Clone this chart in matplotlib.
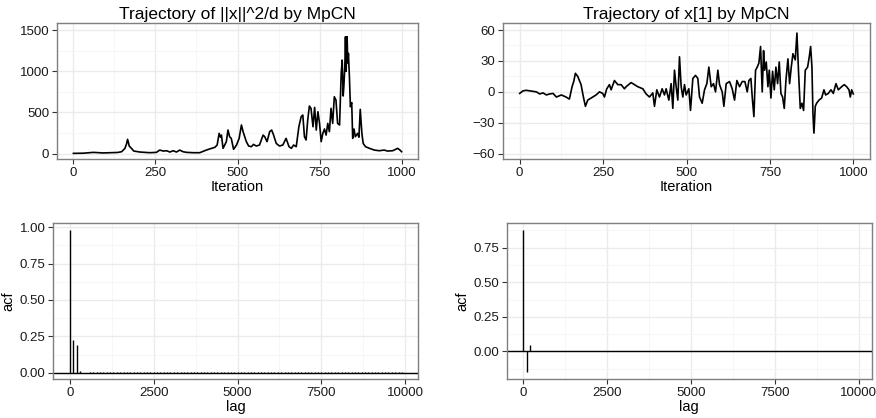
import matplotlib
matplotlib.use("Agg")
import matplotlib.pyplot as plt
from matplotlib.ticker import MultipleLocator

plt.rcParams["font.family"] = ["Liberation Sans", "DejaVu Sans"]

# trajectory of ||x||^2/d
norm_iter = [0, 30, 61, 90, 112, 135, 147, 157, 162, 165, 168, 170, 175, 184, 203, 233, 253,
             263, 274, 284, 294, 304, 314, 324, 334, 345, 365, 385, 400, 405, 421, 431, 438,
             444, 448, 451, 456, 461, 466, 471, 476, 481, 488, 497, 505, 512, 517, 522, 527,
             534, 542, 549, 557, 567, 578, 583, 590, 598, 604, 610, 618, 628, 638, 648, 657,
             664, 671, 679, 687, 694, 699, 704, 709, 714, 719, 724, 730, 735, 740, 745, 750,
             755, 760, 765, 770, 775, 780, 785, 790, 795, 800, 805, 811, 816, 819, 822, 824,
             827, 829, 831, 834, 836, 838, 841, 844, 848, 851, 855, 859, 866, 870, 874, 879,
             883, 890, 902, 917, 932, 947, 957, 973, 988, 995, 1000]
norm_val = [4, 6, 16, 9, 12, 15, 24, 65, 120, 174, 130, 93, 73, 32, 20, 12, 16,
            44, 32, 36, 20, 36, 20, 44, 24, 16, 12, 12, 36, 44, 65, 77, 105,
            247, 200, 226, 65, 105, 146, 287, 206, 186, 53, 105, 186, 348, 267, 206, 146,
            93, 85, 113, 93, 105, 226, 206, 146, 267, 287, 226, 125, 93, 105, 186, 85,
            65, 105, 85, 327, 449, 469, 206, 166, 408, 578, 550, 327, 562, 287, 509, 368,
            146, 247, 300, 226, 368, 267, 550, 368, 691, 651, 368, 348, 974, 1136, 700, 813,
            1050, 1419, 1000, 1419, 1100, 1217, 934, 570, 620, 186, 300, 206, 247, 200, 538, 247,
            125, 85, 65, 44, 36, 44, 32, 36, 65, 44, 24]

# trajectory of x[1]
x1_iter = [0, 10, 20, 30, 40, 50, 60, 70, 80, 90, 100, 110, 125, 139, 149, 157, 162, 167,
           174, 184, 191, 197, 204, 214, 229, 239, 249, 254, 261, 269, 274, 284, 294, 304,
           314, 319, 334, 344, 354, 369, 379, 389, 399, 404, 411, 419, 427, 434, 439, 447,
           454, 459, 464, 469, 474, 479, 484, 489, 494, 499, 507, 512, 519, 527, 534, 539,
           547, 554, 561, 567, 574, 581, 587, 594, 599, 607, 612, 619, 629, 637, 644, 651,
           659, 667, 675, 682, 687, 693, 697, 702, 707, 712, 717, 722, 727, 731, 734, 739,
           744, 748, 753, 758, 763, 768, 773, 778, 783, 788, 793, 798, 804, 809, 814, 819,
           826, 831, 836, 841, 846, 851, 856, 863, 868, 872, 876, 879, 882, 886, 890, 897,
           905, 912, 917, 925, 933, 940, 948, 955, 965, 973, 980, 987, 991, 995, 1000]
x1_val = [-1.5, 1, 1.5, 1, 0.5, 0, -2, -1, -3, -2, -1.5, -5, -3, -5, -7, 5, 10, 18,
          15, 7, -5, -14, -8, -6, -3, 0, -1.5, -5, 3, 7, 2, 11, 7, 7,
          3, 5, 9, 7, 5, 3, -2, -5, -1, -14, 2, -5, 3, -3, 3, -8,
          8, -16, 21, 5, -8, 34, 5, -5, 7, -3, 3, -18, 13, 16, 13, -5,
          -11, 2, 8, 24, 5, 8, 0, 21, 7, 0, -14, 8, 10, 3, -8, 11,
          5, 10, 10, 0, 11, 13, -5, -24, 21, 24, 28, 44, 0, 40, 21, 29,
          5, 21, -6, 20, 2, 24, 8, 29, -1.5, -5, -16, 11, 32, 8, 24, 37,
          31, 57, 18, -16, -11, -18, 21, 24, 34, 44, 24, -21, -40, -14, -11, -8,
          -6, 2, -3, -1.5, 2, -1.5, 8, 2, 5, 7, 5, 2, -5, 2, -2]

# autocorrelations, lags thinned by 100
acf_lags = list(range(0, 10000, 100))
acf_norm_head = [0.978, 0.224, 0.19, 0.013]
acf_x1_head = [0.879, -0.151, 0.045, 0.003]
acf_norm_tail = [0.001, 0.001, 0.003, 0.004, 0.003, 0.004, 0.003, 0.002, 0.004, 0.003,
                 0.003, 0.004, 0.002, 0.003, 0.004, 0.003, 0.003, 0.002, 0.004, 0.003,
                 0.003, 0.004, 0.003, 0.002, 0.003, 0.004, 0.003, 0.003, 0.002, 0.004,
                 0.003, 0.003, 0.004, 0.003, 0.002, 0.003, 0.004, 0.003, 0.003, 0.002,
                 0.004, 0.003, 0.003, 0.004, 0.003, 0.002, 0.003, 0.004, 0.003, 0.003,
                 0.002, 0.004, 0.003, 0.003, 0.004, 0.003, 0.002, 0.003, 0.004, 0.003,
                 0.003, 0.002, 0.004, 0.003, 0.003, 0.004, 0.003, 0.002, 0.003, 0.004,
                 0.003, 0.003, 0.002, 0.004, 0.003, 0.003, 0.004, 0.003, 0.002, 0.003,
                 0.004, 0.003, 0.003, 0.002, 0.004, 0.003, 0.003, 0.004, 0.003, 0.002,
                 0.003, 0.004, 0.003, 0.003, 0.002, 0.003]
acf_x1_tail = [0.001, -0.001, 0.001, 0.0, -0.001, 0.001, 0.001, -0.001, 0.0, 0.001,
               -0.001, 0.001, 0.0, 0.001, -0.001, 0.001, 0.002, -0.001, 0.001, 0.0,
               0.001, -0.001, 0.001, 0.002, 0.0, -0.001, 0.001, 0.001, -0.001, 0.002,
               0.001, 0.0, -0.001, 0.001, 0.002, -0.001, 0.001, 0.0, 0.001, -0.001,
               0.002, 0.001, -0.001, 0.0, 0.001, 0.002, -0.001, 0.001, 0.001, 0.0,
               -0.001, 0.002, 0.001, -0.001, 0.001, 0.0, 0.002, -0.001, 0.001, 0.001,
               0.0, -0.001, 0.002, 0.001, -0.001, 0.001, 0.0, 0.001, 0.002, -0.001,
               0.001, 0.0, -0.001, 0.001, 0.002, 0.001, -0.001, 0.0, 0.001, 0.001,
               -0.001, 0.002, 0.0, 0.001, -0.001, 0.001, 0.001, 0.0, -0.001, 0.002,
               0.001, -0.001, 0.001, 0.0, 0.001, -0.001]
acf_norm = acf_norm_head + acf_norm_tail
acf_x1 = acf_x1_head + acf_x1_tail

W, H = 876, 418
fig = plt.figure(figsize=(W / 100, H / 100), dpi=100)


def panel(left, top, right, bottom):
    return fig.add_axes([left / W, 1 - bottom / H, (right - left) / W, (bottom - top) / H])


def bw_style(ax, xmaj, ymaj):
    ax.set_facecolor("white")
    ax.xaxis.set_major_locator(MultipleLocator(xmaj))
    ax.xaxis.set_minor_locator(MultipleLocator(xmaj / 2))
    ax.yaxis.set_major_locator(MultipleLocator(ymaj))
    ax.yaxis.set_minor_locator(MultipleLocator(ymaj / 2))
    ax.grid(which="major", color="#EBEBEB", linewidth=1.0)
    ax.grid(which="minor", color="#F5F5F5", linewidth=0.6)
    ax.set_axisbelow(True)
    for s in ax.spines.values():
        s.set_color("#7F7F7F")
        s.set_linewidth(1.0)
    ax.tick_params(which="major", direction="out", length=3.5, width=0.8,
                   color="#333333", labelsize=9.5, labelcolor="#1a1a1a", pad=2)
    ax.tick_params(which="minor", length=0)


ax1 = panel(57, 23.3, 418, 159.3)
ax2 = panel(503, 23.3, 870, 159.3)
ax3 = panel(53.3, 223.3, 418.3, 379.3)
ax4 = panel(506.7, 222.7, 871.7, 379.3)

# top left
bw_style(ax1, 250, 500)
ax1.plot(norm_iter, norm_val, color="black", linewidth=1.2)
ax1.set_xlim(-50, 1050)
ax1.set_ylim(-68, 1582)
ax1.set_title("Trajectory of ||x||^2/d by MpCN", fontsize=12.5, pad=3)
ax1.set_xlabel("Iteration", fontsize=10.5, labelpad=1)

# top right
bw_style(ax2, 250, 30)
ax2.plot(x1_iter, x1_val, color="black", linewidth=1.2)
ax2.set_xlim(-50, 1050)
ax2.set_ylim(-65.4, 66.5)
ax2.set_title("Trajectory of x[1] by MpCN", fontsize=12.5, pad=3)
ax2.set_xlabel("Iteration", fontsize=10.5, labelpad=1)
ax2.set_yticklabels([str(int(v)).replace("-", "\u2212") for v in ax2.get_yticks()])

# bottom left
bw_style(ax3, 2500, 0.25)
ax3.axhline(0, color="black", linewidth=1.0)
ax3.vlines(acf_lags, 0, acf_norm, color="black", linewidth=1.0)
ax3.set_xlim(-495, 10390)
ax3.set_ylim(-0.0454, 1.0275)
ax3.set_xlabel("lag", fontsize=10.5, labelpad=1)
ax3.set_ylabel("acf", fontsize=10.5, labelpad=3)
ax3.yaxis.set_major_formatter(plt.FuncFormatter(lambda v, p: f"{v:.2f}"))

# bottom right
bw_style(ax4, 2500, 0.25)
ax4.axhline(0, color="black", linewidth=1.0)
ax4.vlines(acf_lags, 0, acf_x1, color="black", linewidth=1.0)
ax4.set_xlim(-495, 10390)
ax4.set_ylim(-0.2026, 0.931)
ax4.set_xlabel("lag", fontsize=10.5, labelpad=1)
ax4.set_ylabel("acf", fontsize=10.5, labelpad=3)
ax4.yaxis.set_major_formatter(plt.FuncFormatter(lambda v, p: f"{v:.2f}"))

fig.savefig("out.png", dpi=100)
